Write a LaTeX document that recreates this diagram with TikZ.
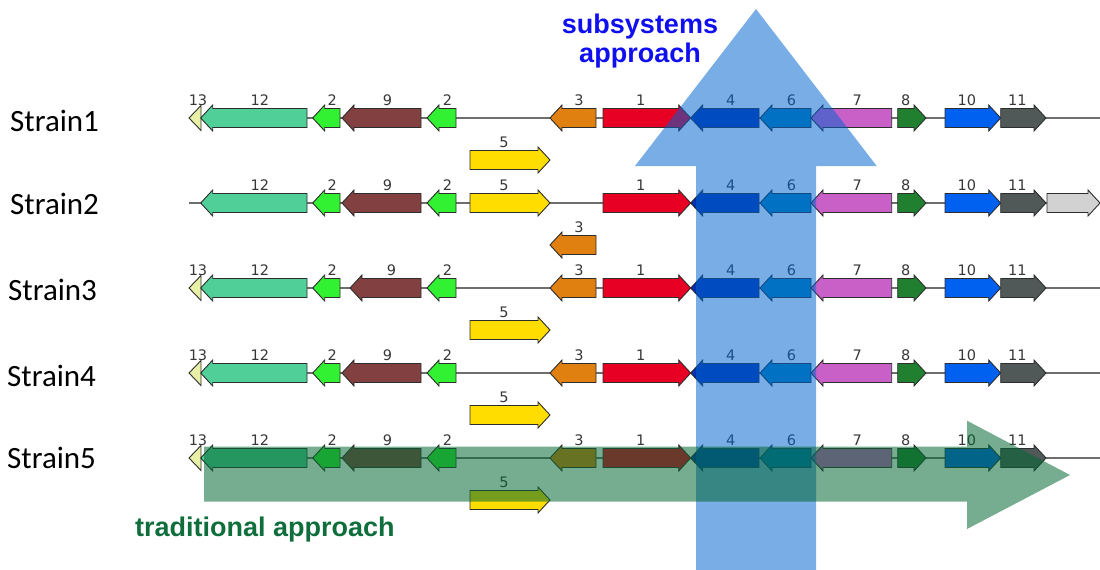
\documentclass[tikz,border=0pt]{standalone}
\usepackage{fontspec}
\setmainfont{Carlito}
\newfontfamily\labfont{DejaVu Sans}
\newfontfamily\arialfont{Liberation Sans}
\definecolor{cxiii}{RGB}{232,240,168}
\definecolor{cxii}{RGB}{80,208,152}
\definecolor{cii}{RGB}{50,240,50}
\definecolor{cix}{RGB}{130,64,64}
\definecolor{ciii}{RGB}{224,128,16}
\definecolor{ci}{RGB}{232,0,36}
\definecolor{civ}{RGB}{0,48,176}
\definecolor{cvi}{RGB}{0,128,184}
\definecolor{cvii}{RGB}{200,96,200}
\definecolor{cviii}{RGB}{32,128,48}
\definecolor{cx}{RGB}{0,96,240}
\definecolor{cxi}{RGB}{80,88,88}
\definecolor{cv}{RGB}{255,221,0}
\definecolor{cgray}{RGB}{210,210,210}
\definecolor{labcol}{RGB}{55,55,55}
\definecolor{linecol}{RGB}{110,110,110}
\definecolor{outl}{RGB}{45,45,45}
\definecolor{subblue}{RGB}{0,100,205}
\definecolor{tradgreen}{RGB}{5,104,52}
\definecolor{subtext}{RGB}{15,15,240}
\definecolor{tradtext}{RGB}{15,110,60}
\tikzset{
  gene/.style={draw=outl, line width=0.9pt, line join=miter},
  glab/.style={font=\labfont\fontsize{14.5}{16}\selectfont, text=labcol, inner sep=0pt},
  backbone/.style={draw=linecol, line width=1.8pt},
  strainlab/.style={font=\fontsize{31}{36}\selectfont, anchor=base west, inner sep=0pt},
  bigarrowlab/.style={font=\arialfont\bfseries\fontsize{27}{30}\selectfont, inner sep=0pt, anchor=base}
}
% right-pointing gene: x1, x2, y, colour, label
\newcommand\geneR[5]{%
  \draw[gene, fill=#4] ({#1},{#3-9.5}) -- ({#2-12},{#3-9.5}) -- ({#2-12},{#3-13}) -- ({#2},{#3})
     -- ({#2-12},{#3+13}) -- ({#2-12},{#3+9.5}) -- ({#1},{#3+9.5}) -- cycle;
  \node[glab] at ({(#1+#2-12)/2},{#3-18}) {#5};}
% left-pointing gene: x1 (tip), x2, y, colour, label
\newcommand\geneL[5]{%
  \draw[gene, fill=#4] ({#1},{#3}) -- ({#1+12},{#3-13}) -- ({#1+12},{#3-9.5}) -- ({#2},{#3-9.5})
     -- ({#2},{#3+9.5}) -- ({#1+12},{#3+9.5}) -- ({#1+12},{#3+13}) -- cycle;
  \node[glab] at ({(#1+12+#2)/2},{#3-18}) {#5};}
\newcommand\geneXIII[1]{%
  \draw[gene, fill=cxiii] (189,{#1}) -- (201,{#1-12.5}) -- (201,{#1+12.5}) -- cycle;
  \node[glab] at (198,{#1-18}) {13};}
\newcommand\leftblock[2]{% y, start of gene 9
  \geneL{200.7}{307}{#1}{cxii}{12}
  \geneL{312.7}{340}{#1}{cii}{2}
  \geneL{#2}{421}{#1}{cix}{9}
  \geneL{427}{456}{#1}{cii}{2}}
\newcommand\rightblock[1]{%
  \geneR{603}{690.7}{#1}{ci}{1}
  \geneL{690.7}{759}{#1}{civ}{4}
  \geneL{760}{811}{#1}{cvi}{6}
  \geneL{811}{891.7}{#1}{cvii}{7}
  \geneR{897.7}{926}{#1}{cviii}{8}
  \geneR{945}{1000.7}{#1}{cx}{10}
  \geneR{1000.7}{1046}{#1}{cxi}{11}}
\begin{document}
\begin{tikzpicture}[x=1pt, y=-1pt]
\useasboundingbox (0,0) rectangle (1100,570);
% strain labels
\node[strainlab] (s1) at (10,131) {Strain1};
\node[strainlab] (s2) at (10,214) {Strain2};
\node[strainlab] (s3) at (8,300) {Strain3};
\node[strainlab] (s4) at (7,386) {Strain4};
\node[strainlab] (s5) at (7,468) {Strain5};
% backbones
\draw[backbone] (195,118) -- (1100,118);
\draw[backbone] (189,203) -- (1100,203);
\draw[backbone] (195,288) -- (1100,288);
\draw[backbone] (195,373) -- (1100,373);
\draw[backbone] (195,458) -- (1100,458);
% row 1
\geneXIII{118}
\leftblock{118}{342}
\geneL{550}{596}{118}{ciii}{3}
\rightblock{118}
\geneR{470}{550}{160}{cv}{5}
% row 2
\leftblock{203}{342}
\geneR{470}{550}{203}{cv}{5}
\rightblock{203}
\geneR{1047}{1100}{203}{cgray}{}
\geneL{550}{596}{245}{ciii}{3}
% row 3
\geneXIII{288}
\leftblock{288}{350}
\geneL{550}{596}{288}{ciii}{3}
\rightblock{288}
\geneR{470}{550}{330}{cv}{5}
% row 4
\geneXIII{373}
\leftblock{373}{342}
\geneL{550}{596}{373}{ciii}{3}
\rightblock{373}
\geneR{470}{550}{415}{cv}{5}
% row 5
\geneXIII{458}
\leftblock{458}{342}
\geneL{550}{596}{458}{ciii}{3}
\rightblock{458}
\geneR{470}{550}{500}{cv}{5}
% subsystems approach (vertical arrow)
\fill[subblue, fill opacity=0.53] (696,570) -- (696,166) -- (635,166) -- (756,9) -- (876.7,166)
   -- (816,166) -- (816,570) -- cycle;
% traditional approach (horizontal arrow)
\fill[tradgreen, fill opacity=0.55] (204,446.7) -- (967,446.7) -- (967,420.7) -- (1070,475)
   -- (967,529) -- (967,501.7) -- (204,501.7) -- cycle;
% arrow captions
\node[bigarrowlab, text=subtext] (sub1) at (640,33) {subsystems};
\node[bigarrowlab, text=subtext] (sub2) at (640,62) {approach};
\node[bigarrowlab, text=tradtext, anchor=base west] (trad) at (135,536) {traditional approach};
\end{tikzpicture}
\end{document}
